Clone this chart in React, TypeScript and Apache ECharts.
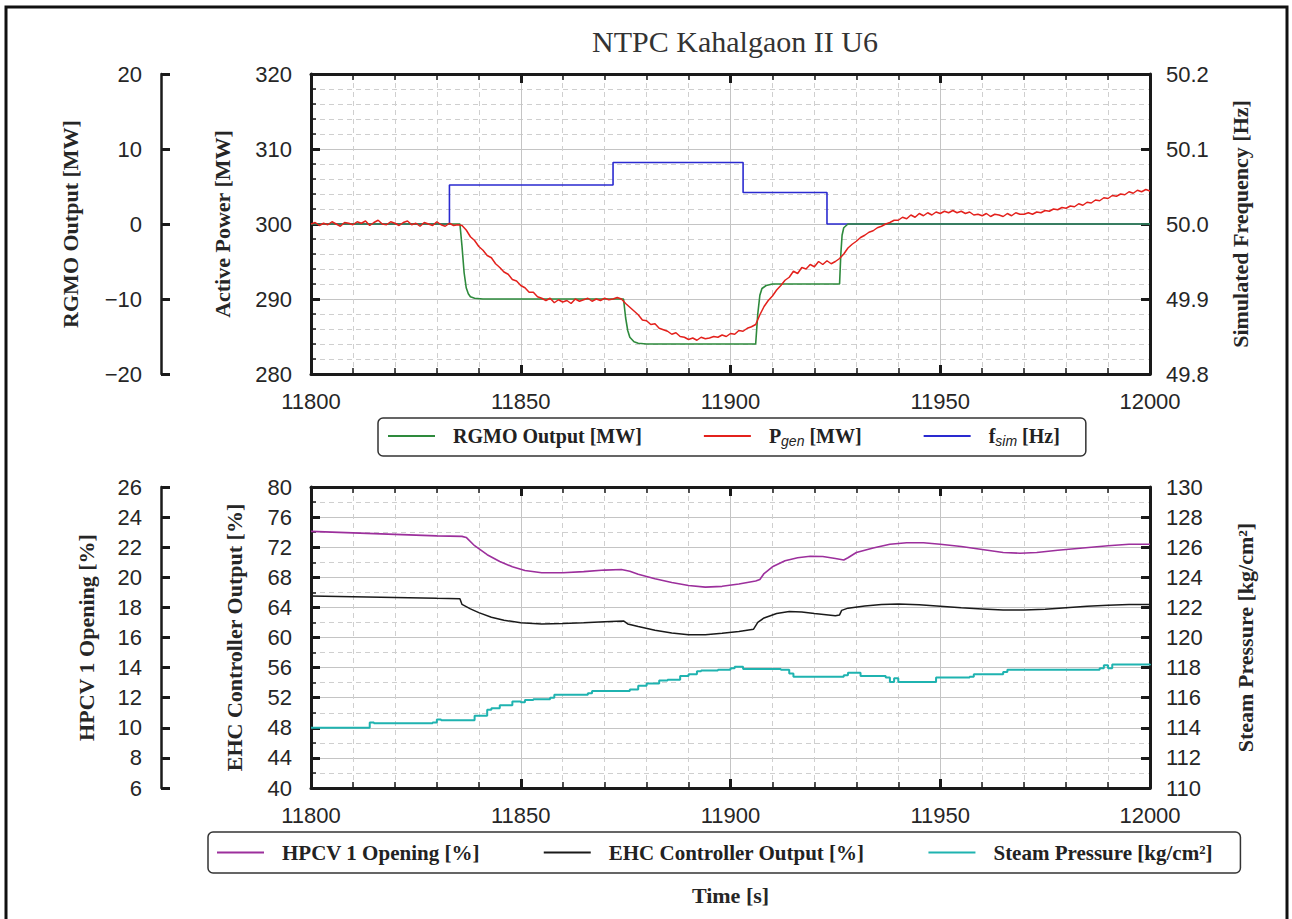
import React, { useEffect, useRef } from "react";
import * as echarts from "echarts";

// ---------- DATA ----------
const X_MIN = 11800;
const X_MAX = 12000;

// RGMO output [MW] (time, value)
const rgmoTime = [11800, 11835.5, 11836, 11836.5, 11837, 11837.5, 11838, 11839, 11841, 11874.5, 11875, 11875.5, 11876, 11877, 11878, 11880, 11906, 11906.5, 11907, 11907.5, 11908.5, 11910, 11926, 11926.3, 11926.6, 11927, 11928, 12000];
const rgmoValue = [0, 0, -3, -6.5, -8.5, -9.3, -9.7, -9.9, -10, -10, -12.5, -14.2, -15.1, -15.7, -15.9, -16, -16, -12, -9.5, -8.6, -8.2, -8, -8, -4, -1.5, -0.5, 0, 0];

// Simulated frequency [Hz] (step changes)
const fsimTime = [11800, 11833, 11872, 11903, 11923, 12000];
const fsimValue = [50.0, 50.052, 50.082, 50.042, 50.0, 50.0];

// Active power P_gen [MW], sampled every 1 s from 11800 to 12000
const pgenStart = 11800;
const pgenValue = [
  300.0, 300.2, 299.8, 300.1, 299.9, 300.3, 300.0, 299.7, 300.2, 300.1,
  299.9, 300.3, 300.1, 300.4, 299.8, 300.2, 300.5, 300.0, 299.9, 300.3,
  300.1, 299.8, 300.2, 300.4, 299.9, 300.1, 299.7, 300.2, 300.0, 299.8,
  300.3, 299.9, 299.7, 300.1, 299.8, 299.9, 299.8, 299.2, 298.3, 297.8,
  297.0, 296.5, 295.8, 295.5, 294.7, 294.2, 293.6, 293.3, 292.6, 292.4,
  291.8, 291.5, 290.9, 290.9, 290.3, 290.1, 289.8, 290.1, 289.5, 289.9,
  289.6, 289.8, 289.4, 290.0, 289.7, 289.9, 290.1, 289.7, 290.0, 289.8,
  290.1, 289.9, 290.0, 290.2, 290.0, 289.4, 288.9, 288.4, 287.9, 287.2,
  287.1, 286.6, 286.7, 286.1, 285.9, 285.7, 285.3, 285.5, 285.0, 284.9,
  284.6, 284.8, 284.5, 284.9, 284.7, 284.8, 285.0, 284.9, 285.2, 285.0,
  285.4, 285.3, 285.8, 285.7, 286.1, 286.3, 286.6, 287.9, 289.0, 289.8,
  290.4, 291.2, 291.8, 292.5, 292.9, 293.7, 293.4, 294.2, 294.0, 294.6,
  294.3, 295.0, 294.6, 295.1, 294.7, 295.0, 295.4, 296.0, 296.8, 297.3,
  297.7, 298.2, 298.5, 298.9, 299.1, 299.5, 299.7, 300.0, 300.2, 300.5,
  300.5, 300.9, 300.7, 301.2, 300.9, 301.4, 301.1, 301.5, 301.2, 301.6,
  301.4, 301.7, 301.5, 301.8, 301.5, 301.7, 301.4, 301.6, 301.2, 301.3,
  301.1, 301.4, 301.0, 301.3, 301.2, 301.0, 301.4, 301.1, 301.5, 301.3,
  301.3, 301.5, 301.3, 301.6, 301.5, 301.8, 301.7, 302.0, 301.9, 302.2,
  302.1, 302.4, 302.3, 302.7, 302.5, 302.9, 302.8, 303.2, 303.1, 303.5,
  303.4, 303.8, 303.7, 304.0, 303.9, 304.3, 304.1, 304.5, 304.3, 304.6,
  304.4,
];

// HPCV 1 opening [%]
const hpcvTime = [11800, 11810, 11820, 11830, 11836, 11837, 11839, 11842, 11845, 11848, 11851, 11855, 11860, 11865, 11870, 11874, 11876, 11878, 11882, 11886, 11890, 11894, 11898, 11902, 11906, 11907, 11908, 11910, 11913, 11916, 11919, 11922, 11925, 11927, 11928, 11930, 11934, 11938, 11942, 11946, 11950, 11955, 11960, 11965, 11969, 11973, 11978, 11984, 11990, 11995, 12000];
const hpcvValue = [23.05, 22.95, 22.85, 22.75, 22.72, 22.65, 22.1, 21.5, 21.05, 20.7, 20.45, 20.3, 20.3, 20.38, 20.48, 20.52, 20.4, 20.2, 19.9, 19.65, 19.45, 19.35, 19.4, 19.55, 19.75, 19.85, 20.25, 20.7, 21.1, 21.3, 21.4, 21.38, 21.25, 21.15, 21.3, 21.65, 21.95, 22.2, 22.3, 22.3, 22.2, 22.05, 21.85, 21.65, 21.6, 21.65, 21.8, 21.95, 22.1, 22.2, 22.2];

// EHC controller output [%]
const ehcTime = [11800, 11810, 11820, 11830, 11835.5, 11836, 11838, 11840, 11843, 11846, 11850, 11855, 11860, 11865, 11870, 11874.5, 11875.5, 11878, 11882, 11886, 11890, 11894, 11898, 11902, 11905.5, 11906.5, 11908, 11911, 11914, 11917, 11920, 11925, 11926, 11926.5, 11928, 11932, 11936, 11940, 11945, 11950, 11955, 11960, 11965, 11970, 11975, 11980, 11985, 11990, 11995, 12000];
const ehcValue = [65.5, 65.4, 65.3, 65.2, 65.15, 64.4, 63.8, 63.3, 62.7, 62.3, 61.95, 61.8, 61.85, 61.95, 62.1, 62.2, 61.8, 61.45, 60.95, 60.6, 60.35, 60.35, 60.55, 60.8, 61.1, 62.0, 62.6, 63.2, 63.45, 63.4, 63.2, 62.9, 63.0, 63.6, 63.9, 64.2, 64.4, 64.45, 64.35, 64.15, 63.95, 63.8, 63.65, 63.65, 63.75, 63.95, 64.15, 64.3, 64.4, 64.4];

// Steam pressure [kg/cm2] (held values)
const steamTime = [11800, 11813, 11814, 11815, 11829, 11830, 11831, 11838, 11839, 11841, 11842, 11843, 11845, 11848, 11850, 11851, 11853, 11857, 11858, 11866, 11867, 11876, 11878, 11880, 11883, 11885, 11888, 11890, 11892, 11893, 11897, 11900, 11901, 11903, 11912, 11914, 11915, 11927, 11928, 11931, 11937, 11938, 11939, 11940, 11949, 11957, 11958, 11965, 11966, 11988, 11989, 11990, 11991, 12000];
const steamValue = [114.0, 114.0, 114.35, 114.3, 114.35, 114.55, 114.5, 114.5, 114.8, 114.8, 115.2, 115.3, 115.5, 115.75, 115.7, 115.85, 115.9, 116.0, 116.2, 116.3, 116.45, 116.55, 116.8, 116.95, 117.15, 117.2, 117.45, 117.55, 117.75, 117.8, 117.85, 117.95, 118.05, 117.9, 117.85, 117.6, 117.4, 117.5, 117.65, 117.45, 117.35, 117.05, 117.3, 117.05, 117.35, 117.4, 117.55, 117.7, 117.85, 117.95, 118.15, 117.95, 118.2, 118.15];

const xTicks = [11800, 11850, 11900, 11950, 12000];

// ---------- STYLE HELPERS ----------
const AX = "#1a1a1a";
const labelFont = { fontFamily: "Liberation Sans", fontSize: 22, color: "#262626" };
const nameFont = { fontFamily: "Liberation Serif", fontWeight: "bold" as const, fontSize: 22, color: "#262626" };
const majorGrid = { show: true, lineStyle: { color: "#c4c4c4", width: 1, type: "solid" as const } };
const minorGrid = { show: true, lineStyle: { color: "#cfcfcf", width: 1, type: [5, 4] as any } };

const pairs = (t: number[], v: number[]) => t.map((x, i) => [x, v[i]]);

function xAxisDef(gridIndex: number, position: "top" | "bottom", withName?: string) {
  const bottom = position === "bottom";
  return {
    type: "value",
    gridIndex,
    position,
    min: X_MIN,
    max: X_MAX,
    interval: xTicks[1] - xTicks[0],
    axisLine: { show: true, onZero: false, lineStyle: { color: AX, width: 3 } },
    axisTick: { show: true, inside: true, length: 9, lineStyle: { color: AX, width: 3 } },
    minorTick: { show: true, splitNumber: 5, length: 6, lineStyle: { color: AX, width: 1.5 } },
    axisLabel: { show: bottom, ...labelFont, margin: 16, formatter: (v: number) => String(v) },
    splitLine: bottom ? majorGrid : { show: false },
    minorSplitLine: bottom ? minorGrid : { show: false },
    name: withName || "",
    nameLocation: "middle",
    nameGap: 96,
    nameTextStyle: nameFont,
  };
}

function yAxisDef(o: {
  gridIndex: number; position: "left" | "right"; offset?: number; min: number; max: number;
  interval: number; minorSplit?: number; grid?: boolean; name: string; nameGap: number;
  lineWidth?: number; formatter?: (v: number) => string; margin?: number;
}) {
  return {
    type: "value",
    gridIndex: o.gridIndex,
    position: o.position,
    offset: o.offset || 0,
    min: o.min,
    max: o.max,
    interval: o.interval,
    axisLine: { show: true, onZero: false, lineStyle: { color: AX, width: o.lineWidth || 3 } },
    axisTick: { show: true, inside: true, length: 9, lineStyle: { color: AX, width: 3 } },
    minorTick: o.minorSplit
      ? { show: true, splitNumber: o.minorSplit, length: 5, lineStyle: { color: AX, width: 1.5 } }
      : { show: false },
    axisLabel: { ...labelFont, margin: o.margin ?? 19, formatter: o.formatter || ((v: number) => String(v)) },
    splitLine: o.grid ? majorGrid : { show: false },
    minorSplitLine: o.grid ? minorGrid : { show: false },
    name: o.name,
    nameLocation: "middle",
    nameGap: o.nameGap,
    nameTextStyle: nameFont,
  };
}

const minus = (v: number) => (v < 0 ? "\u2212" + Math.abs(v) : String(v));

const legendRich = {
  sp: { width: 13 },
  b: { fontFamily: "Liberation Serif", fontWeight: "bold", fontSize: 20, color: "#222", lineHeight: 24 },
  sub: { fontFamily: "Liberation Sans", fontStyle: "italic", fontSize: 14, color: "#222", lineHeight: 14, verticalAlign: "bottom" },
};

const legendFormatter = (name: string) => {
  if (name === "P_gen [MW]") return "{sp| }{b|P}{sub|gen}{b| [MW]}";
  if (name === "f_sim [Hz]") return "{sp| }{b|f}{sub|sim}{b| [Hz]}";
  return "{sp| }{b|" + name + "}";
};

function line(name: string, color: string, xi: number, yi: number, data: number[][], z: number, width = 1.5, step?: string) {
  return {
    name,
    type: "line",
    xAxisIndex: xi,
    yAxisIndex: yi,
    data,
    z,
    showSymbol: false,
    symbol: "none",
    step: step || false,
    clip: true,
    color,
    itemStyle: { color },
    lineStyle: { color, width },
  };
}

export default function App() {
  const ref = useRef<HTMLDivElement>(null);
  useEffect(() => {
    if (!ref.current) return;
    const chart = echarts.init(ref.current, undefined, { renderer: "svg" });
    const pgenData = pgenValue.map((v, i) => [pgenStart + i, v]);
    const option: any = {
      animation: false,
      backgroundColor: "#ffffff",
      title: {
        text: "NTPC Kahalgaon II U6",
        left: 730,
        top: 21,
        textAlign: "center",
        textStyle: { fontFamily: "Liberation Serif", fontWeight: "normal", fontSize: 30, color: "#333" },
      },
      grid: [
        { left: 311, top: 74, width: 839, height: 300 },
        { left: 311, top: 487, width: 839, height: 301 },
      ],
      xAxis: [
        xAxisDef(0, "bottom"),
        xAxisDef(0, "top"),
        xAxisDef(1, "bottom", "Time [s]"),
        xAxisDef(1, "top"),
      ],
      yAxis: [
        yAxisDef({ gridIndex: 0, position: "left", min: 280, max: 320, interval: 10, minorSplit: 5, grid: true, name: "Active Power [MW]", nameGap: 78 }),
        yAxisDef({ gridIndex: 0, position: "left", offset: 150, min: -20, max: 20, interval: 10, name: "RGMO Output [MW]", nameGap: 80, lineWidth: 2.5, formatter: minus }),
        yAxisDef({ gridIndex: 0, position: "right", min: 49.8, max: 50.2, interval: 0.1, name: "Simulated Frequency [Hz]", nameGap: 79, margin: 16, formatter: (v: number) => v.toFixed(1) }),
        yAxisDef({ gridIndex: 1, position: "left", min: 40, max: 80, interval: 4, minorSplit: 2, grid: true, name: "EHC Controller Output [%]", nameGap: 66 }),
        yAxisDef({ gridIndex: 1, position: "left", offset: 150, min: 6, max: 26, interval: 2, name: "HPCV 1 Opening [%]", nameGap: 64, lineWidth: 2.5 }),
        yAxisDef({ gridIndex: 1, position: "right", min: 110, max: 130, interval: 2, name: "Steam Pressure [kg/cm\u00b2]", nameGap: 84, margin: 16 }),
      ],
      legend: [
        {
          left: 378,
          top: 418,
          data: ["RGMO Output [MW]", "P_gen [MW]", "f_sim [Hz]"],
          icon: "rect",
          itemWidth: 47,
          itemHeight: 2,
          itemGap: 62,
          padding: [8, 26, 8, 10],
          borderColor: "#333",
          borderWidth: 1.5,
          borderRadius: 5,
          formatter: legendFormatter,
          textStyle: { rich: legendRich },
          selectedMode: false,
        },
        {
          left: 208,
          top: 832,
          data: ["HPCV 1 Opening [%]", "EHC Controller Output [%]", "Steam Pressure [kg/cm\u00b2]"],
          icon: "rect",
          itemWidth: 47,
          itemHeight: 2,
          itemGap: 64,
          padding: [10, 28, 10, 9],
          borderColor: "#333",
          borderWidth: 1.5,
          borderRadius: 5,
          formatter: (name: string) => "{sp| }{b|" + name + "}",
          textStyle: {
            rich: {
              sp: { width: 13 },
              b: { fontFamily: "Liberation Serif", fontWeight: "bold", fontSize: 21, color: "#222", lineHeight: 26 },
            },
          },
          selectedMode: false,
        },
      ],
      series: [
        line("f_sim [Hz]", "#2a2ad0", 0, 2, pairs(fsimTime, fsimValue), 2, 1.6, "end"),
        line("RGMO Output [MW]", "#2e8a3c", 0, 1, pairs(rgmoTime, rgmoValue), 3, 1.6),
        line("P_gen [MW]", "#e3211c", 0, 0, pgenData, 4, 1.5),
        line("HPCV 1 Opening [%]", "#9c2f9c", 2, 4, pairs(hpcvTime, hpcvValue), 3, 1.6),
        line("EHC Controller Output [%]", "#1a1a1a", 2, 3, pairs(ehcTime, ehcValue), 3, 1.5),
        line("Steam Pressure [kg/cm\u00b2]", "#1fb3b0", 2, 5, pairs(steamTime, steamValue), 3, 2, "end"),
      ],
      graphic: [
        {
          type: "rect",
          silent: true,
          z: 100,
          shape: { x: 6, y: 7, width: 1281, height: 930 },
          style: { fill: "none", stroke: "#111", lineWidth: 3 },
        },
      ],
    };
    chart.setOption(option);
    return () => chart.dispose();
  }, []);
  return (
    <div
      ref={ref}
      style={{ position: "absolute", left: 0, top: 0, width: 1292, height: 919, background: "#fff" }}
    />
  );
}
